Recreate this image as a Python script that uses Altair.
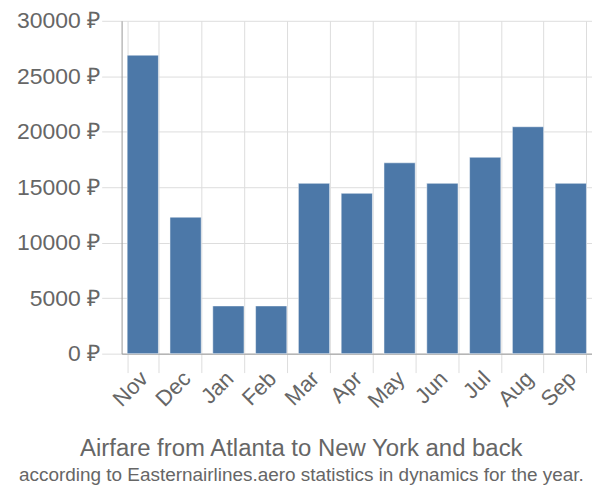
import altair as alt
import pandas as pd

months = ["Nov", "Dec", "Jan", "Feb", "Mar", "Apr", "May", "Jun", "Jul", "Aug", "Sep"]
prices = [26900, 12300, 4300, 4300, 15350, 14450, 17200, 15350, 17700, 20450, 15350]

df = pd.DataFrame({"month": months, "price": prices})

chart = alt.Chart(df).mark_bar(color="#4c78a8", stroke="#ffffff", strokeWidth=0.5).encode(
    x=alt.X("month:N", sort=months, title=None,
            scale=alt.Scale(paddingInner=0.27, paddingOuter=0.13),
            axis=alt.Axis(labelAngle=-45, tickBand="extent", grid=True, tickSize=19,
                          labelFontSize=22, labelColor="#666666", labelFont="Liberation Sans",
                          domainColor="#999999", tickColor="#dddddd", gridColor="#dddddd",
                          labelPadding=-5, labelOffset=-6)),
    y=alt.Y("price:Q", title=None,
            scale=alt.Scale(domain=[0, 30000]),
            axis=alt.Axis(values=[0, 5000, 10000, 15000, 20000, 25000, 30000],
                          labelExpr="datum.value + ' ₽'", tickSize=20,
                          labelFontSize=23, labelColor="#666666", labelFont="Liberation Sans",
                          domainColor="#999999", tickColor="#dddddd", gridColor="#dddddd",
                          labelPadding=2)),
).properties(
    width=472, height=334,
    autosize=alt.AutoSizeParams(type="none"),
    padding={"left": 114, "right": 0, "top": 12, "bottom": 138},
    title=alt.TitleParams(
        text="Airfare from Atlanta to New York and back",
        subtitle="according to Easternairlines.aero statistics in dynamics for the year.",
        orient="bottom", anchor="middle", frame="bounds", dx=-3,
        fontSize=24, subtitleFontSize=19, font="Liberation Sans",
        subtitleFont="Liberation Sans",
        fontWeight="normal", color="#666666", subtitleColor="#666666", offset=25,
        subtitlePadding=6,
    ),
).configure_view(stroke=None)

chart.save("out.html", embed_options={"renderer": "svg", "actions": False})
